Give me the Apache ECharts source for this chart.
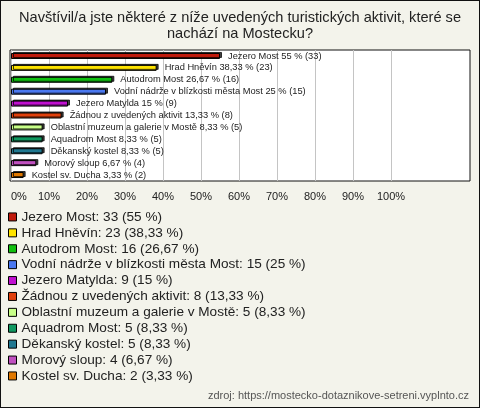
<!DOCTYPE html>
<html>
<head>
<meta charset="utf-8">
<script src="https://cdn.jsdelivr.net/npm/echarts@6/dist/echarts.min.js"></script>
<style>
html,body{margin:0;padding:0;background:#fff;}
#wrap{position:relative;width:480px;height:408px;}
#chart{position:absolute;left:0;top:0;width:480px;height:408px;}
#frame{position:absolute;left:0;top:0;width:480px;height:408px;box-sizing:border-box;border:1px solid #111;pointer-events:none;}
</style>
</head>
<body>
<div id="wrap"><div id="chart"></div><div id="frame"></div></div>
<script>
const categories = ["Jezero Most","Hrad Hněvín","Autodrom Most","Vodní nádrže v blízkosti města Most","Jezero Matylda","Žádnou z uvedených aktivit","Oblastní muzeum a galerie v Mostě","Aquadrom Most","Děkanský kostel","Morový sloup","Kostel sv. Ducha"];
const counts = [33,23,16,15,9,8,5,5,5,4,2];
const percents = [55,38.33,26.67,25,15,13.33,8.33,8.33,8.33,6.67,3.33];
const percentLabels = ["55","38,33","26,67","25","15","13,33","8,33","8,33","8,33","6,67","3,33"];
const colors = ["#c01a0c","#ffe400","#10c010","#4a78f0","#c010d0","#e0400c","#c8ff88","#109860","#207890","#c050c0","#e07800"];
const xTicks = [0,10,20,30,40,50,60,70,80,90,100];

const FONT = '"Liberation Sans", Arial, sans-serif';
const chart = echarts.init(document.getElementById('chart'), null, {renderer:'canvas'});

const series = categories.map((name, i) => ({
  type: 'bar',
  name: name,
  xAxisIndex: 0,
  yAxisIndex: 0,
  barWidth: 6,
  barGap: '-100%',
  data: categories.map((c, j) => j === i ? percents[i] : '-'),
  itemStyle: {color: colors[i], borderColor: '#000', borderWidth: 1,
    shadowColor: 'rgba(0,0,0,0.75)', shadowOffsetX: 2, shadowOffsetY: -1, shadowBlur: 0},
  label: {
    show: true, position: 'right', distance: 8,
    fontFamily: FONT, fontSize: 9.3, color: '#222',
    formatter: () => name + ' ' + percentLabels[i] + ' % (' + counts[i] + ')'
  },
  emphasis: {disabled: true},
  animation: false
}));

chart.setOption({
  backgroundColor: '#f3f3eb',
  animation: false,
  textStyle: {fontFamily: FONT},
  title: [{
    text: 'Navštívil/a jste některé z níže uvedených turistických aktivit, které se\nnachází na Mostecku?',
    left: 'center', top: 5,
    textStyle: {fontFamily: FONT, fontSize: 14.6, fontWeight: 'normal', color: '#222', lineHeight: 16}
  },{
    text: 'zdroj: https://mostecko-dotaznikove-setreni.vyplnto.cz',
    right: 6, top: 385,
    textStyle: {fontFamily: FONT, fontSize: 11, fontWeight: 'normal', color: '#555'}
  }],
  grid: [
    {left: 11, top: 50, width: 380, height: 131, containLabel: false, z: 2},
    {left: 10, top: 50, right: 10, height: 131, show: true, backgroundColor: '#fff', borderColor: '#111', borderWidth: 1, z: 0}
  ],
  xAxis: [{
    type: 'value', gridIndex: 0, min: 0, max: 100, interval: 10,
    axisLine: {show: false}, axisTick: {show: false},
    splitLine: {show: true, lineStyle: {color: '#c4c4c4', width: 1}},
    axisLabel: {fontFamily: FONT, fontSize: 11, color: '#222', margin: 10,
      formatter: v => xTicks.includes(v) ? v + '%' : '', alignMinLabel: 'left'}
  },{
    type: 'value', gridIndex: 1, show: false, min: 0, max: 1
  }],
  yAxis: [{
    type: 'category', gridIndex: 0, data: categories, inverse: true,
    axisLine: {show: false}, axisTick: {show: false}, axisLabel: {show: false}, splitLine: {show: false}
  },{
    type: 'category', gridIndex: 1, show: false, data: ['a']
  }],
  legend: {
    orient: 'vertical', left: 8, top: 209, padding: 0,
    icon: 'rect', itemWidth: 8, itemHeight: 8, itemGap: 0,
    itemStyle: {borderColor: '#000', borderWidth: 1, shadowBlur: 0, shadowOffsetX: 0, shadowOffsetY: 0, shadowColor: 'transparent'},
    textStyle: {fontFamily: FONT, fontSize: 13.6, color: '#222', lineHeight: 15.9},
    selectedMode: false,
    data: categories,
    formatter: name => {
      const i = categories.indexOf(name);
      return name + ': ' + counts[i] + ' (' + percentLabels[i] + ' %)';
    }
  },
  series: series
});
</script>
</body>
</html>
